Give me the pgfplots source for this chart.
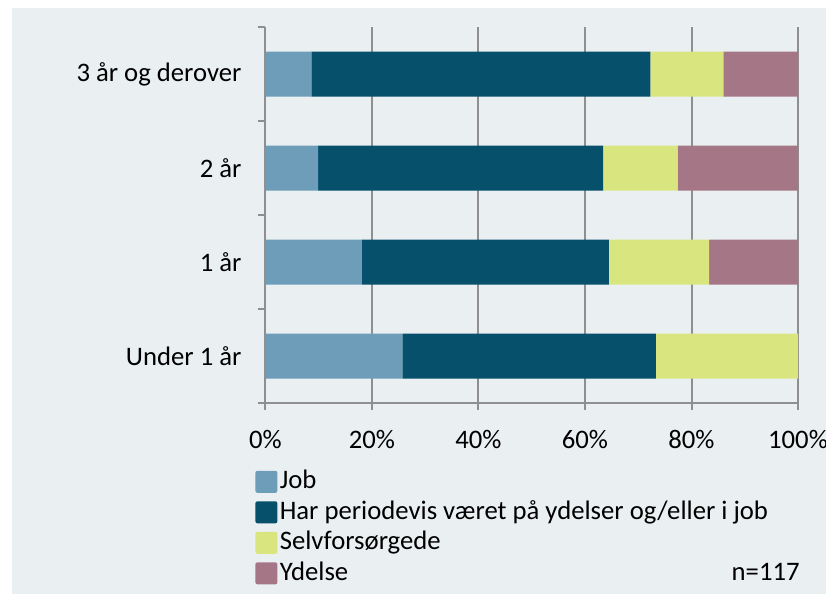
\documentclass[border=0pt]{standalone}
\usepackage{fontspec}
\setmainfont{Carlito}
\usepackage{pgfplots}
\pgfplotsset{compat=1.18}

\definecolor{job}{HTML}{6D9DB8}
\definecolor{har}{HTML}{06506C}
\definecolor{selv}{HTML}{D9E680}
\definecolor{ydelse}{HTML}{A57686}
\definecolor{bg}{HTML}{EAEFF2}
\definecolor{gridc}{HTML}{8F8F8F}

% rows: 0 = Under 1 år ... 3 = 3 år og derover
\pgfplotstableread{
y job har selv ydelse
0 25.7 47.6 26.7 0.0
1 18.1 46.4 18.8 16.7
2 9.9 53.5 14.0 22.6
3 8.6 63.7 13.7 14.0
}\data

\begin{document}
\begin{tikzpicture}
% background and page frame
\fill[white] (-132.75bp,201.5bp) rectangle (280.25bp,-95.5bp);
\fill[bg] (-126.75bp,197.5bp) rectangle (280.25bp,-95.5bp);
\begin{axis}[
    at={(0,0)}, anchor=south west,
    scale only axis,
    width=266.25bp, height=188bp,
    xbar stacked,
    bar width=22.5bp,
    xmin=0, xmax=100,
    ymin=-0.5, ymax=3.5,
    axis x line=bottom, axis y line=left,
    axis line style={gridc, line width=1bp, -},
    xtick={0,20,...,100},
    xticklabel={\pgfmathprintnumber{\tick}\%},
    ytick={0,1,2,3},
    yticklabels={Under 1 år, 1 år, 2 år, 3 år og derover},
    minor ytick={-0.5,0.5,1.5,2.5,3.5},
    tick align=outside,
    major tick length=3.5bp,
    minor tick length=3.5bp,
    major x tick style={gridc, line width=1bp},
    major y tick style={draw=none},
    minor y tick style={gridc, line width=1bp},
    xmajorgrids,
    major grid style={gridc, line width=1bp},
    tick label style={font=\fontsize{13.4}{15}\selectfont, black},
    /pgf/number format/assume math mode=true,
    yticklabel style={xshift=-5bp},
    xticklabel style={yshift=-6.5bp},
    legend style={
        at={(-0.0197,-0.168)}, anchor=north west,
        draw=none, fill=none, inner sep=0pt,
        font=\fontsize{13.4}{15}\selectfont,
        row sep=0pt,
        nodes={text height=10bp, text depth=3.25bp, inner ysep=1bp, inner xsep=1.2bp},
    },
    legend cell align=left,
    legend image code/.code={\fill[#1, rounded corners=1bp] (0bp,-5.5bp) rectangle (11bp,5.5bp);},
    clip=false,
]
\addplot[fill=job, draw=none] table[x=job, y=y] {\data};
\addplot[fill=har, draw=none] table[x=har, y=y] {\data};
\addplot[fill=selv, draw=none] table[x=selv, y=y] {\data};
\addplot[fill=ydelse, draw=none] table[x=ydelse, y=y] {\data};
\legend{Job, Har periodevis været på ydelser og/eller i job, Selvforsørgede, Ydelse}
\node[anchor=east, font=\fontsize{13.4}{15}\selectfont, inner sep=0pt] at (axis description cs:1.0038,-0.449) {n=117};
\end{axis}
\pgfresetboundingbox
\path[use as bounding box] (-132.75bp,201.5bp) rectangle (280.25bp,-95.5bp);
\end{tikzpicture}
\end{document}
